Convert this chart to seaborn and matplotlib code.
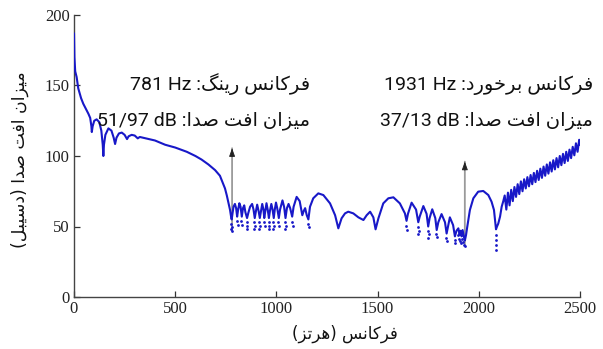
import numpy as np
import pandas as pd
import matplotlib
matplotlib.use("Agg")
import matplotlib.pyplot as plt
import seaborn as sns

# ---------------- data ----------------
# frequency (Hz) and transmission loss (dB) along the solid part of the curve
freq_hz = [0, 2, 6, 13, 21, 35, 46, 60, 71, 80, 86, 88, 92, 100, 112, 125, 135, 142, 145, 148,
           155, 170, 185, 196, 203, 210, 222, 236, 250, 262, 270, 285, 300, 315, 325, 340,
           400, 450, 500, 557, 600, 630, 664, 697, 721, 735, 746, 755, 762, 771, 776, 779,
           783, 788, 795, 801, 806, 811, 817, 823, 829, 835, 841, 847, 855, 862, 870, 880,
           887, 893, 899, 905, 912, 918, 924, 930, 936, 940, 945, 951, 957, 963, 968, 975,
           981, 987, 992, 998, 1004, 1012, 1018, 1030, 1038, 1045, 1052, 1060, 1068, 1078,
           1085, 1100, 1115, 1128, 1135, 1142, 1150, 1158, 1166, 1182, 1207, 1232, 1265,
           1290, 1306, 1322, 1339, 1355, 1380, 1405, 1430, 1446, 1463, 1479, 1490, 1504,
           1528, 1553, 1578, 1610, 1635, 1643, 1650, 1668, 1690, 1701, 1708, 1726, 1742,
           1750, 1757, 1770, 1785, 1792, 1800, 1816, 1833, 1841, 1848, 1857, 1873, 1882,
           1890, 1899, 1905, 1910, 1915, 1920, 1926, 1931, 1937, 1943, 1956, 1973, 1997,
           2022, 2047, 2063, 2075, 2085, 2090, 2096, 2105, 2113, 2121,
           2128, 2136, 2144, 2152, 2160, 2168, 2176, 2184, 2192, 2200, 2208, 2216, 2224,
           2232, 2240, 2248, 2256, 2264, 2272, 2280, 2288, 2296, 2304, 2312, 2320, 2328,
           2336, 2344, 2352, 2360, 2368, 2376, 2384, 2392, 2400, 2408, 2416, 2424, 2432,
           2440, 2448, 2456, 2464, 2472, 2480, 2488, 2496, 2500]
loss_db = [187, 170, 160, 156, 148, 141, 137, 133, 130, 127, 121, 117, 121, 125, 126, 124, 118,
           108, 100, 108, 115, 119.6, 118, 113, 108.5, 113, 116, 116.6, 115, 112, 114, 115,
           114.5, 112.5, 113.5, 113, 111, 108, 106, 103, 100, 97.5, 94, 90, 86, 81, 77, 72,
           67.6, 61.7, 57, 55, 59, 64, 66, 63, 57, 62, 66.5, 64, 57, 63, 65, 60, 56, 60, 64,
           66, 62, 56, 61, 65.5, 61, 56, 61, 66, 62, 56, 61, 66.5, 62, 56, 61, 66, 62, 56, 62,
           67, 63, 56, 62, 68.5, 64, 56, 63, 66, 63, 57, 64, 71, 68, 58, 61, 63, 58, 55, 64,
           70, 73.5, 72.3, 66.4, 58, 48.7, 55.8, 59.3, 60.5, 59.3, 56.5, 54.6, 58, 60.5, 56.5,
           48, 55.8, 66.4, 70, 70.7, 66.4, 59.3, 54, 59, 66.9, 62, 53, 57, 64.5, 59, 50, 56,
           62.2, 56, 47.5, 53, 58.8, 53, 45, 50, 56.5, 51, 43, 47, 48.7, 44, 47, 43, 47.5, 43,
           40, 44, 49.8, 61.7, 70, 74.7, 75.2, 72.3, 67.6, 61.7, 48, 50, 52, 57, 64, 68,
           72, 62, 74, 65, 76, 68, 78, 71, 80, 73, 82, 75, 83.5, 77, 85, 78.5, 86.5, 80,
           88, 81.5, 89.5, 83, 91, 84.5, 92.5, 86, 94, 87.5, 95.5, 89, 97, 90.5, 98.5, 92,
           100, 93.5, 101.5, 95, 103, 96.5, 104.5, 98.5, 106.5, 100.5, 109, 103, 111.5, 108]

# isolated points below the deep resonance dips (dotted tails)
tail_freq = [777, 781, 777, 781, 804, 808, 827, 831, 853, 857, 853, 891, 895, 891,
             916, 920, 916, 938, 942, 961, 965, 961, 985, 989, 985, 1010, 1014,
             1043, 1047, 1043, 1076, 1080, 1156, 1160, 1641, 1645, 1699, 1703, 1699,
             1748, 1752, 1748, 1790, 1794, 1839, 1843, 1880, 1884, 1896, 1902, 1908,
             1913, 1918, 1924, 1929, 1933, 2083, 2087, 2085, 2086]
tail_loss = [52, 50, 48.5, 47, 54, 51, 54, 51, 53, 50.5, 48, 53, 50.5, 48.5,
             53, 50.5, 48.5, 53, 50.5, 53, 50.5, 48, 53, 50.5, 48.5, 53, 50.5,
             53, 50.5, 48.5, 53, 50.5, 52, 50, 50.5, 47.5, 50, 47, 44.5,
             47, 44.5, 42, 45, 42.5, 42, 40, 40.5, 38.5, 44, 41, 40,
             38.5, 41, 39, 37, 36.5, 44, 40.5, 37, 33.5]

# annotated frequencies (arrows): ring frequency and coincidence frequency
arrow_freq = [781, 1931]
arrow_base = [47, 37]
arrow_tip = [105.5, 96]

x_ticks = [0, 500, 1000, 1500, 2000, 2500]
y_ticks = [0, 50, 100, 150, 200]

# Persian labels (logical order)
xlabel_text = "فرکانس (هرتز)"
ylabel_text = "میزان افت صدا (دسیبل)"
ring_label = "فرکانس رینگ"
coinc_label = "فرکانس برخورد"
loss_label = "میزان افت صدا"
ring_value = "781 Hz"
ring_loss = "51/97 dB"
coinc_value = "1931 Hz"
coinc_loss = "37/13 dB"

# ---------------- Persian shaping (matplotlib has no complex shaping) ----------------
FORMS = {
    "ا": ("\uFE8D", "\uFE8E", None, None),
    "ب": ("\uFE8F", "\uFE90", "\uFE91", "\uFE92"),
    "ت": ("\uFE95", "\uFE96", "\uFE97", "\uFE98"),
    "خ": ("\uFEA5", "\uFEA6", "\uFEA7", "\uFEA8"),
    "د": ("\uFEA9", "\uFEAA", None, None),
    "ر": ("\uFEAD", "\uFEAE", None, None),
    "ز": ("\uFEAF", "\uFEB0", None, None),
    "س": ("\uFEB1", "\uFEB2", "\uFEB3", "\uFEB4"),
    "ص": ("\uFEB9", "\uFEBA", "\uFEBB", "\uFEBC"),
    "ف": ("\uFED1", "\uFED2", "\uFED3", "\uFED4"),
    "ل": ("\uFEDD", "\uFEDE", "\uFEDF", "\uFEE0"),
    "م": ("\uFEE1", "\uFEE2", "\uFEE3", "\uFEE4"),
    "ن": ("\uFEE5", "\uFEE6", "\uFEE7", "\uFEE8"),
    "ه": ("\uFEE9", "\uFEEA", "\uFEEB", "\uFEEC"),
    "و": ("\uFEED", "\uFEEE", None, None),
    "\u06A9": ("\uFB8E", "\uFB8F", "\uFB90", "\uFB91"),
    "\u06AF": ("\uFB92", "\uFB93", "\uFB94", "\uFB95"),
    "\u06CC": ("\uFBFC", "\uFBFD", "\uFBFE", "\uFBFF"),
}
NORMAL = {"\u064A": "\u06CC", "\u0643": "\u06A9"}
MIRROR = {"(": ")", ")": "("}


def shape_word(w):
    w = "".join(NORMAL.get(c, c) for c in w)
    out = []
    n = len(w)
    for i, ch in enumerate(w):
        f = FORMS.get(ch)
        if f is None:
            out.append(MIRROR.get(ch, ch))
            continue
        prev_j = i > 0 and w[i - 1] in FORMS and FORMS[w[i - 1]][2] is not None
        next_j = i < n - 1 and w[i + 1] in FORMS and f[2] is not None
        if prev_j and next_j:
            g = f[3]
        elif prev_j:
            g = f[1]
        elif next_j:
            g = f[2]
        else:
            g = f[0]
        out.append(g)
    return "".join(reversed(out))


def rtl(phrase):
    return " ".join(shape_word(w) for w in reversed(phrase.split(" ")))


# ---------------- plot ----------------
sns.set_style("ticks")
plt.rcParams["xtick.direction"] = "in"
plt.rcParams["ytick.direction"] = "in"
plt.rcParams["font.family"] = ["Liberation Serif", "DejaVu Sans"]

fig = plt.figure(figsize=(6.03, 3.49), dpi=100)
ax = fig.add_axes([74 / 603, 1 - 297 / 349, 506 / 603, 282 / 349])

blue = "#1818c8"
df = pd.DataFrame({"freq": freq_hz, "loss": loss_db})
sns.lineplot(data=df, x="freq", y="loss", ax=ax, color=blue, lw=1.5,
             estimator=None, sort=False, zorder=3)
tails = pd.DataFrame({"freq": tail_freq, "loss": tail_loss})
sns.scatterplot(data=tails, x="freq", y="loss", ax=ax, color=blue, s=4,
                linewidth=0, zorder=3)

for f, b, t in zip(arrow_freq, arrow_base, arrow_tip):
    ax.annotate("", xy=(f, t), xytext=(f, b),
                arrowprops=dict(arrowstyle="-", color="#9a9a9a", lw=1.3, shrinkA=0, shrinkB=0),
                zorder=2)
    ax.annotate("", xy=(f, t), xytext=(f, t - 6),
                arrowprops=dict(arrowstyle="-|>,head_length=0.5,head_width=0.18",
                                color="#222222", lw=0.6, shrinkA=0, shrinkB=0),
                zorder=2)

ax.set_xlim(0, 2500)
ax.set_ylim(0, 200)
ax.set_xticks(x_ticks)
ax.set_yticks(y_ticks)
ax.set_xticklabels([str(v) for v in x_ticks], fontsize=12, family="Liberation Serif")
ax.set_yticklabels([str(v) for v in y_ticks], fontsize=12, family="Liberation Serif")
ax.tick_params(axis="both", length=4, width=0.9, colors="#333333", labelcolor="#222222", pad=3)
sns.despine(ax=ax)
for s in ["left", "bottom"]:
    ax.spines[s].set_color("#444444")
    ax.spines[s].set_linewidth(1.0)

ax.set_xlabel("")
ax.set_ylabel("")

persian_font = ["DejaVu Sans"]
mixed_font = ["Roboto", "DejaVu Sans"]

ax.text(0.536, -0.131, rtl(xlabel_text), transform=ax.transAxes, ha="center", va="center",
        fontsize=12, family=persian_font, color="#111111")
ax.text(-0.107, 0.486, rtl(ylabel_text), transform=ax.transAxes, ha="center", va="center",
        rotation=90, fontsize=12.5, family=persian_font, color="#111111")

lines = [
    (1166, 146.8, ring_value + " :" + rtl(ring_label)),
    (1166, 121.6, ring_loss + " :" + rtl(loss_label)),
    (2564, 146.8, coinc_value + " :" + rtl(coinc_label)),
    (2564, 121.6, coinc_loss + " :" + rtl(loss_label)),
]
for x, y, s in lines:
    ax.text(x, y, s, ha="right", va="baseline", fontsize=14, family=mixed_font,
            color="#111111", clip_on=False)

fig.savefig("out.png", dpi=100)
